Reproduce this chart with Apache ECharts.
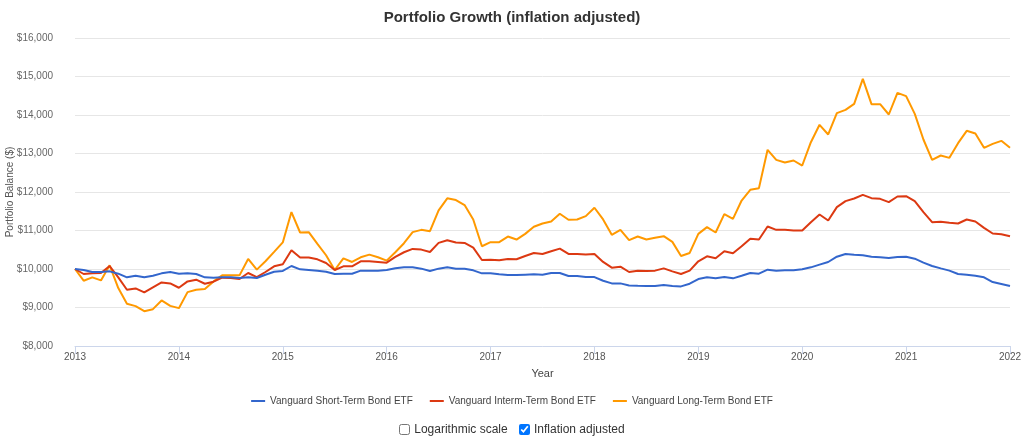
<!DOCTYPE html>
<html>
<head>
<meta charset="utf-8">
<script src="https://cdn.jsdelivr.net/npm/echarts@6/dist/echarts.min.js"></script>
<style>
html,body{margin:0;padding:0;background:#fff;}
#wrap{position:relative;width:1024px;height:438px;overflow:hidden;}
#chart{position:absolute;left:0;top:0;width:1024px;height:438px;}
#opts{position:absolute;left:0;top:422px;width:1024px;text-align:center;font-family:"Liberation Sans",Arial,sans-serif;font-size:12px;color:#333;}
#opts label{margin:0 4px;display:inline-flex;align-items:center;}
#opts input{margin:0 4px 0 0;width:11px;height:11px;}
</style>
</head>
<body>
<div id="wrap">
<div id="chart"></div>
<div id="opts"><label><input type="checkbox">Logarithmic scale</label> <label><input type="checkbox" checked>Inflation adjusted</label></div>
</div>
<script>
var years = ['2013','2014','2015','2016','2017','2018','2019','2020','2021','2022'];
var categories = [];
for (var y = 2013; y <= 2022; y++) {
  for (var m = 1; m <= 12; m++) {
    if (y === 2022 && m > 1) break;
    categories.push(y + '-' + (m < 10 ? '0' + m : m));
  }
}
var shortTerm = [
10000, 9974, 9922, 9922, 9939, 9878, 9783, 9826, 9783, 9826, 9887, 9922,
9878, 9887, 9870, 9783, 9774, 9783, 9783, 9765, 9783, 9765, 9852, 9930,
9950, 10078, 9991, 9974, 9957, 9930, 9870, 9878, 9878, 9957, 9957, 9957,
9974, 10017, 10043, 10043, 10009, 9948, 10009, 10043, 10009, 10009, 9965, 9887,
9887, 9861, 9843, 9843, 9852, 9861, 9852, 9896, 9896, 9817, 9817, 9791,
9791, 9696, 9626, 9626, 9574, 9565, 9557, 9557, 9583, 9557, 9548, 9617,
9739, 9783, 9757, 9790, 9757, 9826, 9896, 9879, 9983, 9957, 9965, 9965,
9991, 10043, 10113, 10182, 10320, 10390, 10372, 10355, 10320, 10303, 10286, 10312,
10320, 10268, 10165, 10078, 10017, 9957, 9870, 9853, 9827, 9784, 9662, 9610,
9558
];
var intermTerm = [
10000, 9870, 9887, 9896, 10078, 9783, 9461, 9496, 9391, 9522, 9652, 9626,
9513, 9678, 9722, 9617, 9670, 9774, 9765, 9739, 9896, 9791, 9922, 10070,
10125, 10487, 10296, 10296, 10252, 10157, 9974, 10070, 10070, 10200, 10200, 10183,
10165, 10313, 10435, 10522, 10504, 10443, 10678, 10748, 10687, 10678, 10557, 10235,
10243, 10226, 10261, 10252, 10339, 10417, 10391, 10461, 10530, 10391, 10391, 10374,
10391, 10183, 10035, 10061, 9922, 9957, 9948, 9957, 10017, 9939, 9870, 9957,
10200, 10330, 10278, 10460, 10407, 10589, 10784, 10766, 11104, 11017, 11017, 11000,
11000, 11216, 11416, 11260, 11606, 11762, 11831, 11926, 11840, 11822, 11736, 11883,
11892, 11762, 11476, 11216, 11225, 11199, 11182, 11286, 11234, 11069, 10922, 10905,
10853
];
var longTerm = [
10000, 9696, 9783, 9704, 10096, 9504, 9096, 9035, 8904, 8957, 9183, 9043,
8983, 9400, 9461, 9478, 9678, 9835, 9835, 9835, 10261, 9983, 10200, 10443,
10690, 11478, 10948, 10957, 10652, 10357, 9974, 10278, 10183, 10304, 10374, 10304,
10217, 10435, 10670, 10957, 11017, 10983, 11522, 11835, 11791, 11661, 11287, 10591,
10696, 10698, 10843, 10765, 10913, 11096, 11183, 11235, 11435, 11278, 11287, 11374,
11591, 11287, 10887, 11017, 10748, 10843, 10765, 10809, 10852, 10704, 10339, 10417,
10913, 11087, 10948, 11425, 11303, 11779, 12056, 12100, 13095, 12835, 12766, 12818,
12688, 13294, 13745, 13494, 14048, 14134, 14290, 14939, 14281, 14281, 14013, 14576,
14489, 14030, 13364, 12835, 12948, 12887, 13268, 13589, 13519, 13147, 13251, 13329,
13147
];
var seriesNames = ['Vanguard Short-Term Bond ETF', 'Vanguard Interm-Term Bond ETF', 'Vanguard Long-Term Bond ETF'];
var colors = ['#3366cc', '#dc3912', '#ff9900'];

var font = '"Liberation Sans", Arial, sans-serif';
var chart = echarts.init(document.getElementById('chart'), null, {renderer: 'canvas'});
function yearTick(idx) { return idx % 12 === 0; }
chart.setOption({
  animation: false,
  color: colors,
  title: {
    text: 'Portfolio Growth (inflation adjusted)',
    left: 'center', top: 5,
    textStyle: {fontFamily: font, fontSize: 15, fontWeight: 'bold', color: '#333'}
  },
  grid: {left: 75, right: 14, top: 38, bottom: 92, containLabel: false, outerBoundsMode: 'none'},
  legend: {
    top: 391, left: 'center',
    itemWidth: 14, itemHeight: 2, itemGap: 17,
    icon: 'rect',
    textStyle: {fontFamily: font, fontSize: 10, color: '#444'},
    data: seriesNames
  },
  xAxis: {
    type: 'category',
    data: categories,
    boundaryGap: false,
    name: 'Year', nameLocation: 'middle', nameGap: 22, nameMoveOverlap: false,
    nameTextStyle: {fontFamily: font, fontSize: 11, color: '#444'},
    axisLine: {lineStyle: {color: '#ccd6eb'}},
    axisTick: {interval: function(i){return yearTick(i);}, length: 8, lineStyle: {color: '#ccd6eb'}},
    axisLabel: {
      interval: function(i){return yearTick(i);},
      formatter: function(v){ return v.slice(0,4); },
      fontFamily: font, fontSize: 10, color: '#555', margin: 6
    },
    splitLine: {show: false}
  },
  yAxis: {
    type: 'value',
    min: 8000, max: 16000, interval: 1000,
    name: 'Portfolio Balance ($)', nameLocation: 'middle', nameGap: 60, nameRotate: 90, nameMoveOverlap: false,
    nameTextStyle: {fontFamily: font, fontSize: 10, color: '#555'},
    axisLine: {show: false},
    axisTick: {show: false},
    axisLabel: {
      formatter: function(v){ return '$' + v.toLocaleString('en-US'); },
      fontFamily: font, fontSize: 10, color: '#666', margin: 22
    },
    splitLine: {lineStyle: {color: '#e6e6e6'}}
  },
  series: [
    {name: seriesNames[0], type: 'line', data: shortTerm, showSymbol: false, lineStyle: {width: 2}, z: 3},
    {name: seriesNames[1], type: 'line', data: intermTerm, showSymbol: false, lineStyle: {width: 2}, z: 2},
    {name: seriesNames[2], type: 'line', data: longTerm, showSymbol: false, lineStyle: {width: 2}, z: 1}
  ]
});
</script>
</body>
</html>
